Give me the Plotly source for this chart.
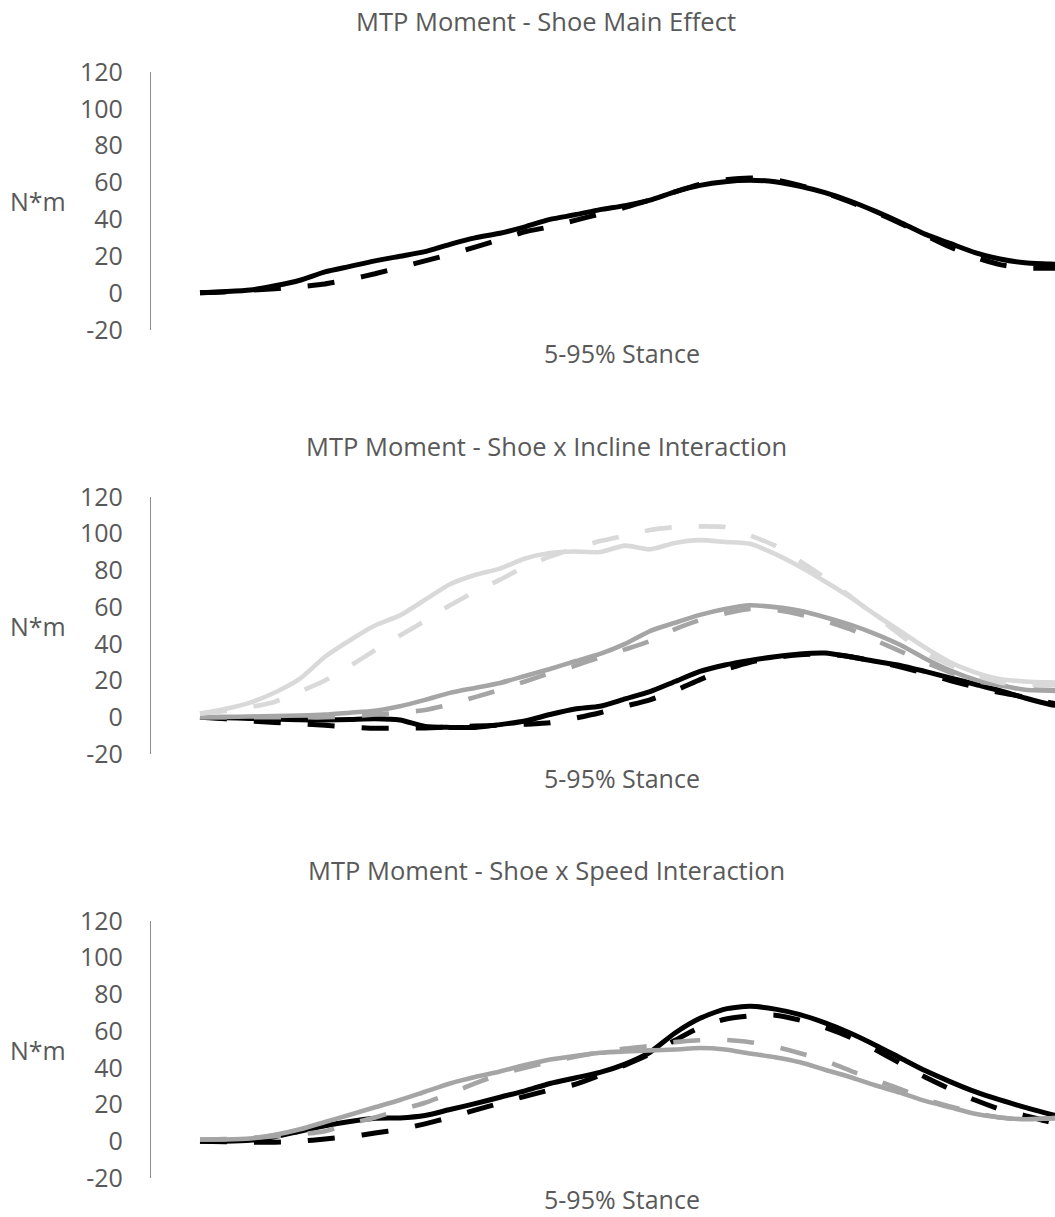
import plotly.graph_objects as go

# % stance (category positions)
stance = [5, 7.5, 10, 12.5, 15, 17.5, 20, 22.5, 25, 27.5, 30, 32.5, 35, 37.5, 40, 42.5,
          45, 47.5, 50, 52.5, 55, 57.5, 60, 62.5, 65, 67.5, 70, 72.5, 75, 77.5, 80, 82.5,
          85, 87.5, 90, 92.5]

y_ticks = [-20, 0, 20, 40, 60, 80, 100, 120]
y_tick_text = ["-20", "0", "20", "40", "60", "80", "100", "120"]

# Panel 1 - Shoe main effect
main_solid = [0.2, 0.8, 1.7, 4, 7, 11.5, 14.5, 17.5, 20, 22.5, 26.5, 30, 32.5, 36, 40, 42.5,
              45.3, 47.5, 50.5, 55, 58.5, 60.5, 61.2, 60.5, 58, 54.5, 50, 44.5, 38.5, 32, 27, 22,
              18.5, 16.5, 15.8, 15]
main_dash = [0.2, 0.8, 1.6, 2.4, 3.5, 5, 7.5, 10.5, 14, 17.5, 21, 25, 29, 33.3, 36, 39.5,
             43, 46.5, 50.5, 55, 59, 61.5, 62.5, 61.5, 58.5, 54.5, 49.5, 44, 38, 31.5, 25, 19.5,
             15.5, 13.6, 13.5, 13.3]

# Panel 2 - Shoe x Incline
inc_black_solid = [0, -0.3, -0.6, -1, -1.4, -1.5, -1.2, -0.8, -1.5, -5, -5.5, -5.5, -4, -2, 1.5, 4.5,
                   6, 10, 14, 19.5, 25, 28.5, 31, 33, 34.5, 35, 33, 30.5, 28.3, 25, 21.5, 18,
                   14.5, 10.5, 7, 5]
inc_black_dash = [0, -0.8, -2, -2.8, -3.6, -4.4, -5.3, -6, -6, -5.8, -5.2, -4.8, -4.3, -3.8, -3, -0.5,
                  2.5, 6, 9.5, 14.5, 20.5, 26, 30, 32.5, 34, 34.5, 33, 30.5, 27.5, 24, 20, 16.5,
                  13.5, 11, 8, 6]
inc_mid_solid = [0, 0.2, 0.4, 0.7, 1, 1.5, 2.5, 3.6, 6, 9.5, 13.3, 16, 18.7, 22.5, 26.3, 30.5,
                 34.5, 40, 47, 51.5, 55.8, 59, 61, 60, 58, 54.5, 50.5, 45.5, 39.5, 32, 25.5, 20.5,
                 17.5, 15, 14.5, 14]
inc_mid_dash = [0, 0, 0, 0, 0, 0, 0.5, 1.5, 2.5, 4, 7, 11, 15, 19.5, 24, 28,
                32.7, 37, 41.5, 48, 53, 56.5, 59, 58.5, 56, 52.5, 48, 42, 36, 30, 24.5, 20,
                17.5, 15.5, 14.8, 14.5]
inc_light_solid = [2, 4.5, 8, 13.5, 21, 33, 42, 50, 55.5, 64, 72.5, 77.5, 81, 86.5, 89.5, 90.3,
                   90, 93.5, 91.5, 95, 96.5, 95.5, 94.5, 89, 82, 74, 65.5, 56, 47, 38, 30, 24.5,
                   20.8, 19.5, 19, 18.8]
inc_light_dash = [2, 3.5, 5.5, 8.5, 14, 20, 28, 36.5, 44.5, 52.5, 61, 68.5, 75, 82, 87.5, 92,
                  96, 99, 102, 103.6, 104, 103.6, 99, 93.5, 85, 76, 66, 55.5, 45, 35, 28.5, 23,
                  19, 17.5, 17.5, 17.5]

# Panel 3 - Shoe x Speed
spd_black_solid = [0, 0, 0.5, 2.5, 5.5, 8.5, 10.8, 12.5, 12.7, 14, 17.3, 20.5, 24, 27.5, 31.5, 34.5,
                   37.5, 42, 48.5, 59, 67, 72, 73.5, 72, 69, 64.5, 59, 52.5, 45.5, 38.5, 32.5, 27,
                   22.5, 18.5, 14.8, 12]
spd_black_dash = [0, -0.3, -0.5, -0.5, 0, 1.3, 2.5, 4.5, 6.5, 9.5, 13, 17, 20.7, 24.5, 28, 31,
                  36, 41.5, 47.5, 55, 62, 66.5, 68.3, 68.7, 66, 62, 56.7, 50, 42.5, 35, 28.5, 22.5,
                  17.5, 14, 10.5, 8]
spd_gray_solid = [1, 1, 1.5, 3.5, 6.5, 10.5, 14.5, 18.5, 22.5, 27, 31.5, 35, 38, 41.5, 44.5, 46.5,
                  48.2, 49, 49.5, 50, 50.8, 50, 47.8, 45.8, 43, 39, 35, 30.5, 26.5, 22, 18.5, 15,
                  13, 12, 12.5, 13]
spd_gray_dash = [1, 1.2, 1.8, 2.8, 3.8, 5.5, 9.5, 13, 17, 21, 26, 31.5, 36.5, 40, 43.3, 46,
                 48.5, 50.5, 52, 54, 55, 55.2, 54, 51.5, 48, 44, 38.5, 33.5, 28.5, 23, 19, 15.5,
                 13, 11.8, 12.5, 13]

titles = ["MTP Moment - Shoe Main Effect",
          "MTP Moment - Shoe x Incline Interaction",
          "MTP Moment - Shoe x Speed Interaction"]
x_title = "5-95% Stance"
y_title = "N*m"

BLACK = "#000000"
MID = "#a5a5a5"
LIGHT = "#d9d9d9"
DASH = "27px,27px"
TXT = "#595959"
FONT = "Open Sans"

W, H = 1055, 1217
PLOT_L = 151

# pixel layout of each panel: (y of 120, y of -20, title y, x-title y)
panels = [(72, 330, 21, 353), (497, 754, 446, 778), (921, 1178, 870, 1199)]

fig = go.Figure()

series = [
    [(main_solid, BLACK, None), (main_dash, BLACK, DASH)],
    [(inc_black_solid, BLACK, None), (inc_black_dash, BLACK, DASH),
     (inc_mid_solid, MID, None), (inc_mid_dash, MID, DASH),
     (inc_light_solid, LIGHT, None), (inc_light_dash, LIGHT, DASH)],
    [(spd_black_solid, BLACK, None), (spd_black_dash, BLACK, DASH),
     (spd_gray_solid, MID, None), (spd_gray_dash, MID, DASH)],
]

for i, group in enumerate(series):
    xa = "x" if i == 0 else f"x{i+1}"
    ya = "y" if i == 0 else f"y{i+1}"
    for vals, col, dash in group:
        fig.add_trace(go.Scatter(
            x=stance, y=vals, mode="lines", xaxis=xa, yaxis=ya,
            line=dict(color=col, width=5 if col == BLACK else 4.6, dash=dash,
                      shape="spline", smoothing=0.6),
            showlegend=False, hoverinfo="skip"))

plot_w = W - PLOT_L
px_per_pct = 10.0
x_lo = 5 - (200 - PLOT_L) / px_per_pct
x_hi = 5 + (W - 200) / px_per_pct

layout = dict(
    template="none",
    width=W, height=H, autosize=False,
    margin=dict(l=PLOT_L, r=0, t=0, b=0, pad=0, autoexpand=False),
    paper_bgcolor="white", plot_bgcolor="white",
    font=dict(family=FONT, color=TXT),
    showlegend=False,
)

annotations = []
for i, (ytop, ybot, ty, xty) in enumerate(panels):
    xk = "xaxis" if i == 0 else f"xaxis{i+1}"
    yk = "yaxis" if i == 0 else f"yaxis{i+1}"
    dom = [(H - ybot) / H, (H - ytop) / H]
    layout[xk] = dict(range=[x_lo, x_hi], domain=[0, 1], showgrid=False, zeroline=False,
                      showticklabels=False, showline=False, ticks="", automargin=False,
                      anchor="y" if i == 0 else f"y{i+1}")
    layout[yk] = dict(range=[-20, 120], domain=dom, tickmode="array",
                      tickvals=y_ticks, ticktext=y_tick_text,
                      showgrid=False, zeroline=False, showline=True,
                      linecolor="#8c8c8c", linewidth=1.3, ticks="", automargin=False,
                      ticklabelstandoff=22,
                      tickfont=dict(family=FONT, size=25, color=TXT),
                      anchor="x" if i == 0 else f"x{i+1}")
    annotations.append(dict(text=titles[i], xref="paper", yref="paper",
                            x=(546 - PLOT_L) / plot_w, y=1 - ty / H,
                            xanchor="center", yanchor="middle", showarrow=False,
                            font=dict(family=FONT, size=25.5, color=TXT)))
    annotations.append(dict(text=x_title, xref="paper", yref="paper",
                            x=(622 - PLOT_L) / plot_w, y=1 - xty / H,
                            xanchor="center", yanchor="middle", showarrow=False,
                            font=dict(family=FONT, size=25, color=TXT)))
    annotations.append(dict(text=y_title, xref="paper", yref="paper",
                            x=(38 - PLOT_L) / plot_w, y=1 - (ytop + ybot) / 2 / H,
                            xanchor="center", yanchor="middle", showarrow=False,
                            font=dict(family=FONT, size=25, color=TXT)))

layout["annotations"] = annotations
fig.update_layout(**layout)
fig.write_html("out.html")
